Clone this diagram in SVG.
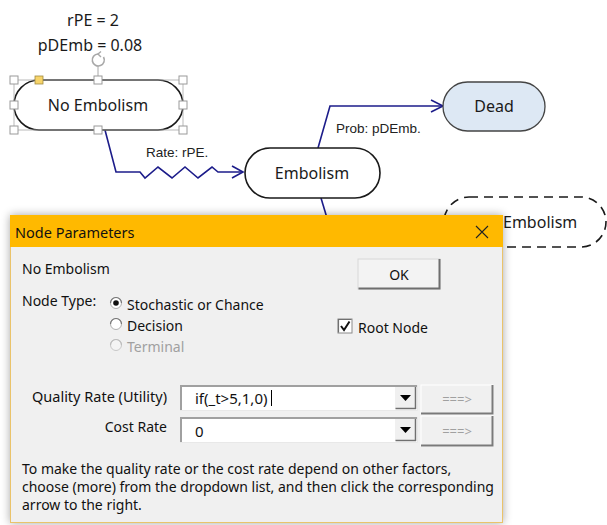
<svg xmlns="http://www.w3.org/2000/svg" width="607" height="525" viewBox="0 0 607 525">
<style>
.nt{font-family:"Noto Sans","Open Sans",sans-serif;font-size:16px;fill:#1a1a1a;text-anchor:middle;dominant-baseline:central}
.lbl{font-family:"Liberation Sans",Arial,sans-serif;font-size:13.5px;fill:#222}
.node{fill:#fff;stroke:#1a1a1a;stroke-width:1.6}
.conn{fill:none;stroke:#1c1c8a;stroke-width:1.6}
.hd{fill:#fff;stroke:#9a9a9a;stroke-width:1}
.dt{font-family:"Noto Sans","Open Sans",sans-serif;font-size:14px;fill:#111;dominant-baseline:central}
.gray{fill:#a0a0a0}
</style>
<defs>
<filter id="sh" x="-10%" y="-10%" width="120%" height="120%">
<feGaussianBlur stdDeviation="5"/>
</filter>
</defs>
<rect width="607" height="525" fill="#fff"/>

<g id="params">
<text class="nt" x="93" y="20">rPE = 2</text>
<text class="nt" x="90" y="45">pDEmb = 0.08</text>
</g>

<g id="connectors">
<polyline class="conn" points="105,130 116,172 140,172 145,178 158,167 172,178 185,167 198,178 212,167 218,172 242,172"/>
<polyline class="conn" points="232,166 243,172 232,178"/>
<text class="lbl" x="146" y="157">Rate: rPE.</text>
<polyline class="conn" points="318,148 330,106 442,106"/>
<polyline class="conn" points="431,100 443,106 431,112"/>
<text class="lbl" x="336" y="133">Prob: pDEmb.</text>
<polyline class="conn" points="321,198 327,218"/>
</g>

<g id="node-no-embolism">
<rect class="node" x="14" y="80" width="169" height="50" rx="25"/>
<text class="nt" x="98" y="105">No Embolism</text>
<rect x="14" y="80" width="169" height="50" fill="none" stroke="#a8a8a8" stroke-width="0.8"/>
<line x1="98" y1="66" x2="98" y2="80" stroke="#a8a8a8" stroke-width="1"/>
<path d="M103.5,57 A6,6 0 1 1 98,54" fill="none" stroke="#a8a8a8" stroke-width="1.6"/>
<path d="M101,51.5 L98,54 L101,57" fill="none" stroke="#a8a8a8" stroke-width="1.4"/>
<rect class="hd" x="10" y="76" width="8" height="8"/>
<rect class="hd" x="94" y="76" width="8" height="8"/>
<rect class="hd" x="179" y="76" width="8" height="8"/>
<rect class="hd" x="10" y="101" width="8" height="8"/>
<rect class="hd" x="179" y="101" width="8" height="8"/>
<rect class="hd" x="10" y="126" width="8" height="8"/>
<rect class="hd" x="94" y="126" width="8" height="8"/>
<rect class="hd" x="179" y="126" width="8" height="8"/>
<rect x="35" y="76" width="8" height="8" fill="#f7d46a" stroke="#a08a40" stroke-width="0.8"/>
</g>

<g id="node-embolism">
<rect class="node" x="245" y="148" width="135" height="50" rx="25"/>
<text class="nt" x="312" y="173">Embolism</text>
</g>

<g id="node-dead">
<rect x="443" y="82" width="102" height="49" rx="24.5" fill="#dde8f4" stroke="#444" stroke-width="1.3"/>
<text class="nt" x="494" y="106">Dead</text>
</g>

<g id="node-no-embolism-2">
<rect x="444" y="197" width="162" height="50" rx="25" fill="#fff" stroke="#1a1a1a" stroke-width="1.6" stroke-dasharray="9,6"/>
<text class="nt" x="503" y="222" style="text-anchor:start">Embolism</text>
</g>

<g id="dialog">
<rect x="10" y="215" width="493" height="308" fill="#000" opacity="0.35" filter="url(#sh)"/>
<rect x="10.5" y="215.5" width="492" height="307" fill="#f0f0f0" stroke="#eac36a" stroke-width="1"/>
<rect x="10" y="215" width="493" height="32" fill="#ffb900"/>
<text class="dt" x="15" y="232" style="font-size:14.5px">Node Parameters</text>
<path d="M476,226 L488,238 M488,226 L476,238" stroke="#222" stroke-width="1.1"/>

<text class="dt" x="22" y="268">No Embolism</text>

<g id="ok-button">
<rect x="358" y="259" width="82" height="30" fill="#f3f3f3" stroke="#d8d8d8"/>
<path d="M358.5,288.5 H439.5 V259" fill="none" stroke="#6e6e6e" stroke-width="2"/>
<text class="dt" x="399" y="274" style="text-anchor:middle">OK</text>
</g>

<text class="dt" x="22" y="300">Node Type:</text>
<circle cx="116" cy="303" r="5.5" fill="#fff" stroke="#b0b0b0"/>
<path d="M110.5,303 A5.5,5.5 0 0 1 121.5,303" fill="none" stroke="#777" stroke-width="1.2"/>
<circle cx="116" cy="303" r="2.8" fill="#111"/>
<text class="dt" x="127" y="304">Stochastic or Chance</text>
<circle cx="116" cy="324" r="5.5" fill="#fff" stroke="#b0b0b0"/>
<path d="M110.5,324 A5.5,5.5 0 0 1 121.5,324" fill="none" stroke="#777" stroke-width="1.2"/>
<text class="dt" x="127" y="325">Decision</text>
<circle cx="116" cy="345" r="5.5" fill="#f4f4f4" stroke="#c8c8c8"/>
<path d="M110.5,345 A5.5,5.5 0 0 1 121.5,345" fill="none" stroke="#bdbdbd" stroke-width="1.2"/>
<text class="dt gray" x="127" y="346">Terminal</text>

<rect x="338" y="319" width="14" height="14" fill="#fff" stroke="#8a8a8a"/>
<path d="M338.5,332.5 V319.5 H351.5" fill="none" stroke="#707070" stroke-width="1.2"/>
<path d="M341,326 L344,330 L349.5,321.5" fill="none" stroke="#111" stroke-width="2"/>
<text class="dt" x="358" y="327">Root Node</text>

<text class="dt" x="167" y="396" style="text-anchor:end;font-size:14.5px">Quality Rate (Utility)</text>
<g id="combo-quality">
<rect x="180" y="385" width="237" height="25" fill="#fff"/>
<path d="M181,410 V386 H417" fill="none" stroke="#a0a0a0" stroke-width="2"/>
<path d="M180,410.5 H417.5 V385" fill="none" stroke="#e8e8e8" stroke-width="1"/>
<rect x="395" y="387" width="21" height="22" fill="#f0f0f0"/>
<path d="M395.5,408.5 H415.5 V387" fill="none" stroke="#707070" stroke-width="1.5"/>
<path d="M400,395 H411 L405.5,401 Z" fill="#000"/>
<text class="dt" x="195" y="398" style="font-size:15px">if(_t&gt;5,1,0)</text>
<line x1="271.5" y1="390" x2="271.5" y2="406" stroke="#000" stroke-width="1"/>
</g>
<text class="dt" x="167" y="426" style="text-anchor:end">Cost Rate</text>
<g id="combo-cost">
<rect x="180" y="417" width="237" height="25" fill="#fff"/>
<path d="M181,442 V418 H417" fill="none" stroke="#a0a0a0" stroke-width="2"/>
<path d="M180,442.5 H417.5 V417" fill="none" stroke="#e8e8e8" stroke-width="1"/>
<rect x="395" y="419" width="21" height="22" fill="#f0f0f0"/>
<path d="M395.5,440.5 H415.5 V419" fill="none" stroke="#707070" stroke-width="1.5"/>
<path d="M400,427 H411 L405.5,433 Z" fill="#000"/>
<text class="dt" x="195" y="431" style="font-size:15px">0</text>
</g>

<g id="arrow-button-1">
<rect x="421" y="385" width="72" height="29" fill="#f0f0f0" stroke="#fff"/>
<path d="M421,413.5 H492.5 V385" fill="none" stroke="#7a7a7a" stroke-width="2"/>
<text class="dt gray" x="457" y="399" style="text-anchor:middle;font-size:13px">===&gt;</text>
</g>
<g id="arrow-button-2">
<rect x="421" y="416" width="72" height="30" fill="#f0f0f0" stroke="#fff"/>
<path d="M421,445.5 H492.5 V416" fill="none" stroke="#7a7a7a" stroke-width="2"/>
<text class="dt gray" x="457" y="431" style="text-anchor:middle;font-size:13px">===&gt;</text>
</g>

<text class="dt" x="22" y="468">To make the quality rate or the cost rate depend on other factors,</text>
<text class="dt" x="22" y="486">choose (more) from the dropdown list, and then click the corresponding</text>
<text class="dt" x="22" y="504">arrow to the right.</text>
</g>
</svg>
